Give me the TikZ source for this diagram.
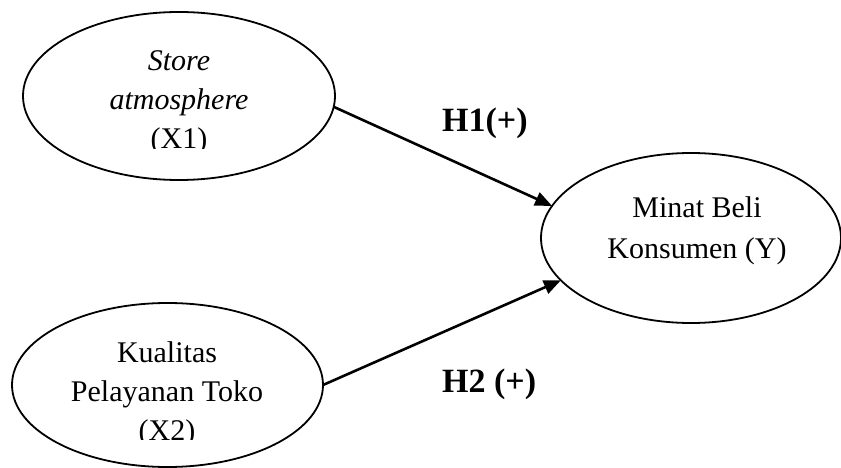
\documentclass[tikz,border=0pt]{standalone}
\usepackage{fontspec}
\setmainfont{Liberation Serif}
\usetikzlibrary{shapes.geometric,arrows.meta}
\tikzset{
  latent/.style={draw, ellipse, line width=1.8pt, inner sep=0pt, outer sep=0pt},
  lbl/.style={anchor=base, inner sep=0pt, font=\fontsize{30}{36}\selectfont},
  hyp/.style={anchor=base west, inner sep=0pt, font=\fontsize{34}{40}\selectfont\bfseries},
  path/.style={line width=2.6pt, -{Triangle[length=17pt,width=14pt]}}
}
\begin{document}
\begin{tikzpicture}[x=1pt,y=-1pt]
\useasboundingbox (0,0) rectangle (841,468);
% ellipses
\node[latent, minimum width=312pt, minimum height=168pt] (x1) at (179,96) {};
\node[latent, minimum width=311pt, minimum height=164pt] (x2) at (167.5,385) {};
\node[latent, minimum width=300pt, minimum height=170pt] (y) at (691,238) {};
% texts
\begin{scope}
\clip (20,20) rectangle (340,149);
\node[lbl] (t1a) at (179,71) {\itshape Store};
\node[lbl] (t1b) at (179,110) {\itshape atmosphere};
\node[lbl] (t1c) at (179,149) {(X1)};
\end{scope}
\begin{scope}
\clip (10,310) rectangle (330,439);
\node[lbl] (t2a) at (167,362) {Kualitas};
\node[lbl] (t2b) at (167,401) {Pelayanan Toko};
\node[lbl] (t2c) at (167,440) {(X2)};
\end{scope}
\node[lbl] (t3a) at (697,217) {Minat Beli};
\node[lbl] (t3b) at (697,258) {Konsumen (Y)};
% arrows
\draw[path] (x1.-4.4) -- (y.167);
\draw[path] (x2.east) -- (y.198);
% hypothesis labels
\node[hyp] (h1) at (442,132) {H1(+)};
\node[hyp] (h2) at (442,392) {H2 (+)};
\end{tikzpicture}
\end{document}
